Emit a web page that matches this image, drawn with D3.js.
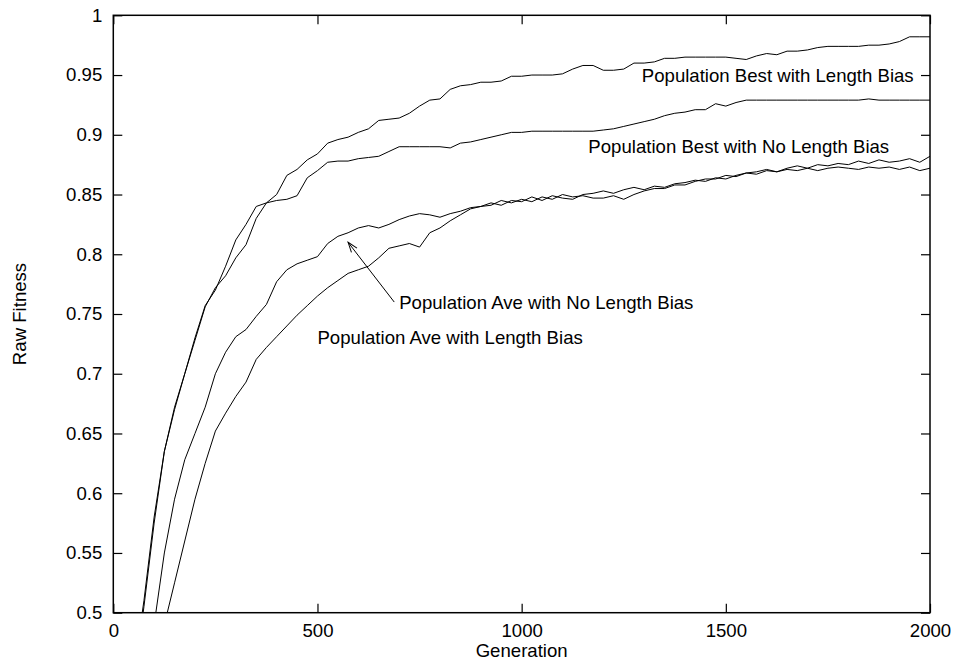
<!DOCTYPE html>
<html>
<head>
<meta charset="utf-8">
<script src="https://cdn.jsdelivr.net/npm/d3@7"></script>
<style>
  body { margin: 0; background: #fff; }
  text { font-family: "Liberation Sans", Arial, sans-serif; font-size: 18.6px; fill: #000; }
</style>
</head>
<body>
<div class="chart"></div>
<script>
// generation numbers (x) shared by all four runs
let gens = [50,75,100,125,150,175,200,225,250,275,300,325,350,375,400,425,450,475,500,525,
  550,575,600,625,650,675,700,725,750,775,800,825,850,875,900,925,950,975,1000,1025,
  1050,1075,1100,1125,1150,1175,1200,1225,1250,1275,1300,1325,1350,1375,1400,1425,1450,1475,1500,1525,
  1550,1575,1600,1625,1650,1675,1700,1725,1750,1775,1800,1825,1850,1875,1900,1925,1950,1975,2000];

let bestLB = [0.45,0.51,0.58,0.635,0.672,0.700,0.730,0.757,0.770,0.790,0.812,0.825,0.840,0.843,0.850,0.866,0.871,0.879,0.884,0.893,
  0.896,0.898,0.902,0.905,0.912,0.913,0.914,0.918,0.924,0.929,0.930,0.938,0.941,0.942,0.944,0.944,0.945,0.949,0.949,0.950,
  0.950,0.950,0.951,0.955,0.958,0.958,0.954,0.954,0.955,0.960,0.960,0.961,0.964,0.964,0.965,0.965,0.965,0.965,0.965,0.964,
  0.963,0.966,0.968,0.967,0.970,0.970,0.971,0.973,0.974,0.974,0.974,0.974,0.975,0.975,0.976,0.978,0.982,0.982,0.982];

let bestNoLB = [0.44,0.505,0.575,0.635,0.670,0.700,0.728,0.756,0.772,0.782,0.797,0.808,0.830,0.843,0.845,0.846,0.849,0.864,0.870,0.877,
  0.878,0.878,0.880,0.881,0.882,0.886,0.890,0.890,0.890,0.890,0.890,0.889,0.893,0.894,0.896,0.898,0.900,0.902,0.902,0.903,
  0.903,0.903,0.903,0.903,0.903,0.903,0.904,0.905,0.907,0.909,0.911,0.913,0.916,0.918,0.919,0.921,0.921,0.926,0.924,0.927,
  0.929,0.929,0.929,0.929,0.929,0.929,0.929,0.929,0.929,0.929,0.929,0.929,0.930,0.929,0.929,0.929,0.929,0.929,0.929];

let aveNoLB = [0.40,0.45,0.49,0.55,0.595,0.628,0.650,0.672,0.700,0.718,0.731,0.737,0.748,0.758,0.777,0.787,0.792,0.795,0.798,0.809,
  0.815,0.818,0.822,0.824,0.822,0.825,0.829,0.832,0.834,0.833,0.831,0.834,0.836,0.839,0.840,0.843,0.841,0.845,0.844,0.848,
  0.845,0.849,0.847,0.846,0.850,0.851,0.853,0.851,0.854,0.856,0.854,0.857,0.856,0.859,0.860,0.862,0.861,0.864,0.863,0.866,
  0.868,0.867,0.870,0.869,0.871,0.870,0.872,0.870,0.872,0.873,0.872,0.871,0.873,0.872,0.873,0.871,0.873,0.870,0.872];

let aveLB = [0.36,0.41,0.45,0.49,0.525,0.560,0.595,0.625,0.652,0.667,0.681,0.693,0.712,0.722,0.731,0.740,0.749,0.757,0.765,0.772,
  0.778,0.784,0.787,0.790,0.797,0.805,0.807,0.809,0.806,0.818,0.822,0.828,0.833,0.838,0.840,0.841,0.845,0.843,0.846,0.844,
  0.848,0.846,0.850,0.848,0.849,0.847,0.847,0.849,0.846,0.850,0.853,0.855,0.855,0.858,0.858,0.861,0.863,0.863,0.866,0.865,
  0.868,0.869,0.871,0.869,0.872,0.874,0.872,0.875,0.874,0.876,0.875,0.878,0.876,0.879,0.877,0.878,0.880,0.877,0.882];

let xTicks = [0, 500, 1000, 1500, 2000];
let yTicks = [0.5, 0.55, 0.6, 0.65, 0.7, 0.75, 0.8, 0.85, 0.9, 0.95, 1];
let yTickLabels = ["0.5","0.55","0.6","0.65","0.7","0.75","0.8","0.85","0.9","0.95","1"];

// label text, anchor position in data units
let labels = [
  {text: "Population Best with Length Bias", g: 1960, v: 0.95, anchor: "end"},
  {text: "Population Best with No Length Bias", g: 1900, v: 0.89, anchor: "end"},
  {text: "Population Ave with No Length Bias", g: 700, v: 0.76, anchor: "start"},
  {text: "Population Ave with Length Bias", g: 500, v: 0.73, anchor: "start"}
];
let arrow = {g1: 688, v1: 0.76, g2: 575, v2: 0.81};

let margin = {top: 15.3, left: 113.3};
let width = 816.7;
let height = 597.4;

const svg = d3.select(".chart")
  .append("svg")
  .attr("width", 955)
  .attr("height", 660);

const g = svg.append("g")
  .attr("transform", "translate(" + margin.left + "," + margin.top + ")");

let x = d3.scaleLinear().domain([0, 2000]).range([0, width]);
let y = d3.scaleLinear().domain([0.5, 1]).range([height, 0]);

let defs = svg.append("defs");
defs.append("clipPath").attr("id", "plot")
  .append("rect").attr("width", width).attr("height", height);

defs.append("marker")
  .attr("id", "head")
  .attr("viewBox", "-12 -6 14 12")
  .attr("refX", 0).attr("refY", 0)
  .attr("markerWidth", 14).attr("markerHeight", 12)
  .attr("markerUnits", "userSpaceOnUse")
  .attr("orient", "auto")
  .append("path")
  .attr("d", "M-10,-3.5L0,0L-10,3.5")
  .attr("fill", "none")
  .attr("stroke", "#000")
  .attr("stroke-width", 1);

// axes, ticks pointing inward
let axBottom = g.append("g")
  .attr("transform", "translate(0," + height + ")")
  .call(d3.axisBottom(x).tickValues(xTicks).tickSize(-9).tickSizeOuter(0).tickPadding(11)
    .tickFormat(d3.format("d")));
let axTop = g.append("g")
  .call(d3.axisTop(x).tickValues(xTicks).tickSize(-9).tickSizeOuter(0).tickFormat(""));
let axLeft = g.append("g")
  .call(d3.axisLeft(y).tickValues(yTicks).tickSize(-9).tickSizeOuter(0).tickPadding(11)
    .tickFormat((d, i) => yTickLabels[i]));
let axRight = g.append("g")
  .attr("transform", "translate(" + width + ",0)")
  .call(d3.axisRight(y).tickValues(yTicks).tickSize(-9).tickSizeOuter(0).tickFormat(""));

[axBottom, axTop, axLeft, axRight].forEach(function (a) {
  a.selectAll(".domain").remove();
  a.selectAll("line").attr("stroke", "#000").attr("stroke-width", 1.2);
  a.selectAll("text").style("font-size", "18.6px").style("font-family", "Liberation Sans, Arial, sans-serif");
});

g.append("rect")
  .attr("width", width).attr("height", height)
  .attr("fill", "none").attr("stroke", "#000").attr("stroke-width", 1.5);

let line = d3.line()
  .x((d, i) => x(gens[i]))
  .y(d => y(d));

[bestLB, bestNoLB, aveNoLB, aveLB].forEach(function (s) {
  g.append("path")
    .datum(s)
    .attr("clip-path", "url(#plot)")
    .attr("d", line)
    .attr("fill", "none")
    .attr("stroke", "#000")
    .attr("stroke-width", 1);
});

g.selectAll(".lbl")
  .data(labels)
  .enter()
  .append("text")
  .attr("class", "lbl")
  .attr("x", d => x(d.g))
  .attr("y", d => y(d.v))
  .attr("dy", "0.35em")
  .attr("text-anchor", d => d.anchor)
  .text(d => d.text);

g.append("line")
  .attr("x1", x(arrow.g1)).attr("y1", y(arrow.v1))
  .attr("x2", x(arrow.g2)).attr("y2", y(arrow.v2))
  .attr("stroke", "#000").attr("stroke-width", 1)
  .attr("marker-end", "url(#head)");

// axis titles
svg.append("text")
  .attr("x", margin.left + width / 2)
  .attr("y", 650)
  .attr("dy", "0.35em")
  .attr("text-anchor", "middle")
  .text("Generation");

svg.append("text")
  .attr("transform", "translate(19.5," + (margin.top + height / 2) + ") rotate(-90)")
  .attr("dy", "0.35em")
  .attr("text-anchor", "middle")
  .text("Raw Fitness");
</script>
</body>
</html>
